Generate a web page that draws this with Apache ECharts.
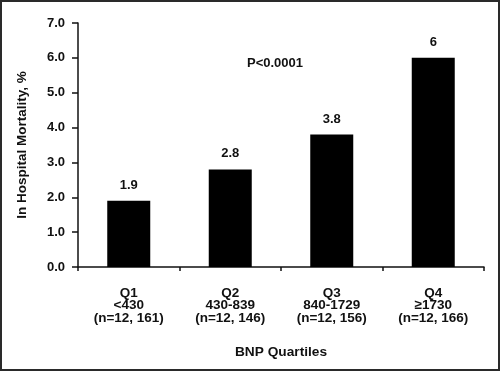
<!DOCTYPE html>
<html><head><meta charset="utf-8">
<script src="https://cdn.jsdelivr.net/npm/echarts@6/dist/echarts.min.js"></script>
<style>html,body{margin:0;padding:0;background:#fff}#c{width:500px;height:371px}</style>
</head><body><div id="c"></div>
<script>
var quartiles = ['Q1', 'Q2', 'Q3', 'Q4'];
var ranges = ['<430', '430-839', '840-1729', '\u22651730'];
var counts = ['(n=12, 161)', '(n=12, 146)', '(n=12, 156)', '(n=12, 166)'];
var mortality = [1.9, 2.8, 3.8, 6];
var yTicks = [0, 1, 2, 3, 4, 5, 6, 7];

var categories = quartiles.map(function (q, i) { return q + '\n' + ranges[i] + '\n' + counts[i]; });
var font = 'Liberation Sans, Arial, Helvetica, sans-serif';
var chart = echarts.init(document.getElementById('c'), null, { renderer: 'canvas' });
chart.setOption({
  animation: false,
  backgroundColor: '#fff',
  textStyle: { fontFamily: font },
  graphic: [{
    type: 'rect', shape: { x: 1, y: 1, width: 498, height: 369 },
    style: { fill: 'none', stroke: '#2a2a2a', lineWidth: 2 }, z: 100
  }, {
    type: 'text', left: 247, top: 57,
    style: { text: 'P<0.0001', font: 'bold 13px ' + font, fill: '#111' }
  }],
  grid: { left: 78, right: 16, top: 23, bottom: 104, containLabel: false },
  xAxis: {
    type: 'category', data: categories,
    name: 'BNP Quartiles', nameLocation: 'middle', nameGap: 78,
    nameTextStyle: { fontWeight: 'bold', fontSize: 13.7, color: '#111', fontFamily: font },
    axisLine: { lineStyle: { color: '#111', width: 1.5 } },
    axisTick: { show: true, length: 4, alignWithLabel: false, lineStyle: { color: '#111', width: 1.5 } },
    axisLabel: { margin: 20, fontWeight: 'bold', fontSize: 13.5, lineHeight: 12.5, color: '#111', fontFamily: font, interval: 0 }
  },
  yAxis: {
    type: 'value', min: 0, max: 7, interval: 1,
    name: 'In Hospital Mortality, %', nameLocation: 'middle', nameGap: 49,
    nameTextStyle: { fontWeight: 'bold', fontSize: 13.5, color: '#111', fontFamily: font },
    axisLine: { show: true, lineStyle: { color: '#111', width: 1.5 } },
    axisTick: { show: true, length: 6, lineStyle: { color: '#111', width: 1.5 } },
    splitLine: { show: false },
    axisLabel: { margin: 13, fontWeight: 'bold', fontSize: 13, color: '#111', fontFamily: font,
      formatter: function (v) { return v.toFixed(1); } }
  },
  series: [{
    type: 'bar', data: mortality, barWidth: 43,
    itemStyle: { color: '#000' },
    label: { show: true, position: 'top', distance: 9, fontWeight: 'bold', fontSize: 13, color: '#111', fontFamily: font }
  }]
});
</script></body></html>
